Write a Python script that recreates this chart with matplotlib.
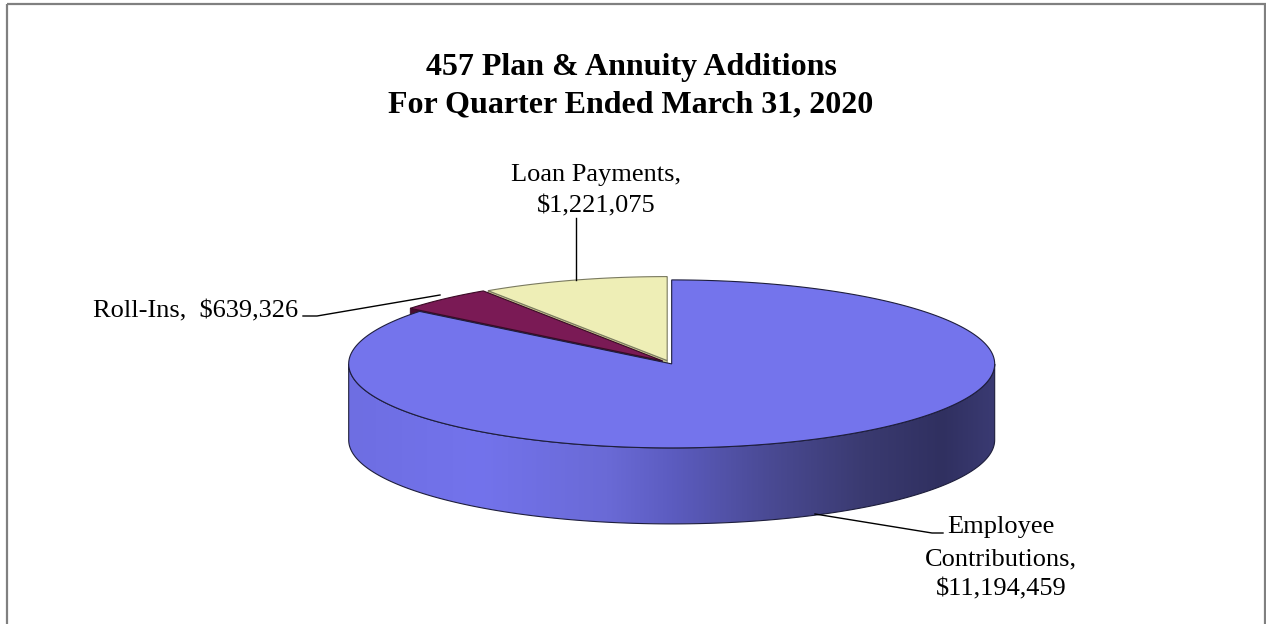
import numpy as np
import matplotlib.pyplot as plt
from matplotlib.patches import Polygon, Rectangle
from matplotlib.colors import LinearSegmentedColormap

# data
labels = ["Employee Contributions", "Roll-Ins", "Loan Payments"]
values = [11194459, 639326, 1221075]
title_lines = ["457 Plan & Annuity Additions", "For Quarter Ended March 31, 2020"]

top_colors = ["#7474EC", "#7A1A55", "#EEEEB6"]
side_colors = ["#5A5AC0", "#4A0C30", "#C8C890"]
edge_colors = ["#1E1E3C", "#3A0A25", "#7A7A60"]
explode = [0.012, 0.035, 0.03]

W, H = 1266, 624
fig = plt.figure(figsize=(W / 100, H / 100), dpi=100)
ax = fig.add_axes([0, 0, 1, 1])
ax.set_xlim(0, W)
ax.set_ylim(H, 0)
ax.axis("off")

# pie geometry in pixel units
cx, cy, rx, ry, depth = 670, 363, 323, 84, 76

fracs = np.array(values) / sum(values)
ends = np.pi / 2 - np.cumsum(fracs) * 2 * np.pi
starts = ends + fracs * 2 * np.pi

wall_cmap = LinearSegmentedColormap.from_list(
    "wall", [(0.0, "#6E6EE2"), (0.2, "#7373EC"), (0.4, "#6A6AD6"), (0.5, "#5C5CC0"),
             (0.65, "#4A4A94"), (0.8, "#3A3A70"), (0.92, "#303060"), (1.0, "#3A3A72")])


def rim(t, ox, oy, dz=0.0):
    t = np.atleast_1d(t)
    return np.column_stack([ox + cx + rx * np.cos(t), oy + cy - ry * np.sin(t) + dz])


def offset(k):
    mid = (starts[k] + ends[k]) / 2
    return explode[k] * rx * np.cos(mid), -explode[k] * ry * np.sin(mid)


def draw_slice(k, z):
    ox, oy = offset(k)
    c_top = np.array([[cx + ox, cy + oy]])
    c_bot = c_top + [0, depth]
    # radial faces that face the viewer
    for a, visible in ((starts[k], np.cos(starts[k]) < 0), (ends[k], np.cos(ends[k]) > 0)):
        if visible:
            p = rim(a, ox, oy)
            face = np.vstack([c_top, p, p + [0, depth], c_bot])
            ax.add_patch(Polygon(face, closed=True, fc=side_colors[k], ec=edge_colors[k],
                                 lw=0.6, zorder=z))
    # outer wall (front half only)
    lo, hi = ends[k], starts[k]
    segs = []
    for base in (-np.pi, np.pi):
        s0, s1 = max(lo, base), min(hi, base + np.pi)
        if s1 > s0:
            segs.append((s0, s1))
    for s0, s1 in segs:
        t = np.linspace(s0, s1, 200)
        wall = np.vstack([rim(t, ox, oy), rim(t[::-1], ox, oy, depth)])
        poly = Polygon(wall, closed=True, fc="none", ec=edge_colors[k], lw=0.8, zorder=z + 0.2)
        ax.add_patch(poly)
        if k == 0:
            img = ax.imshow(np.linspace(0, 1, 256)[None, :], cmap=wall_cmap, aspect="auto",
                            extent=[wall[:, 0].min(), wall[:, 0].max(),
                                    wall[:, 1].max(), wall[:, 1].min()],
                            zorder=z + 0.1, interpolation="bicubic")
            img.set_clip_path(poly)
        else:
            ax.add_patch(Polygon(wall, closed=True, fc=side_colors[k], ec="none", zorder=z + 0.1))
    # top face
    t = np.linspace(ends[k], starts[k], 300)
    top = np.vstack([c_top, rim(t, ox, oy)])
    ax.add_patch(Polygon(top, closed=True, fc=top_colors[k], ec=edge_colors[k],
                         lw=0.8, zorder=z + 0.5))


# back slices first, then the large front slice
draw_slice(2, 1)
draw_slice(1, 2)
draw_slice(0, 3)

# frame (bottom edge falls outside the picture)
ax.add_patch(Rectangle((7, 4), 1258, 640, fc="none", ec="#808080", lw=1.6, zorder=0,
                       clip_on=False))

serif = ["Liberation Serif", "DejaVu Serif"]

# title
ax.text(631, 75, title_lines[0], ha="center", va="baseline", fontsize=23,
        fontweight="bold", family=serif)
ax.text(631, 112, title_lines[1], ha="center", va="baseline", fontsize=23,
        fontweight="bold", family=serif)

# data labels
lab_kw = dict(fontsize=19, family=serif, va="baseline")
ax.text(596, 181, labels[2] + ",", ha="center", **lab_kw)
ax.text(596, 212, "${:,}".format(values[2]), ha="center", **lab_kw)
ax.plot([576, 576], [218, 280], color="black", lw=1, zorder=5)

ax.text(298, 317, "{},  ${:,}".format(labels[1], values[1]), ha="right", **lab_kw)
ax.plot([303, 317, 440], [316, 316, 295], color="black", lw=1, zorder=5)

emp = labels[0].split()
ax.text(1001, 533, emp[0], ha="center", **lab_kw)
ax.text(1001, 565, emp[1] + ",", ha="center", **lab_kw)
ax.text(1001, 595, "${:,}".format(values[0]), ha="center", **lab_kw)
ax.plot([815, 932, 943], [514, 533, 533], color="black", lw=1, zorder=5)

fig.savefig("out.png", dpi=100)
